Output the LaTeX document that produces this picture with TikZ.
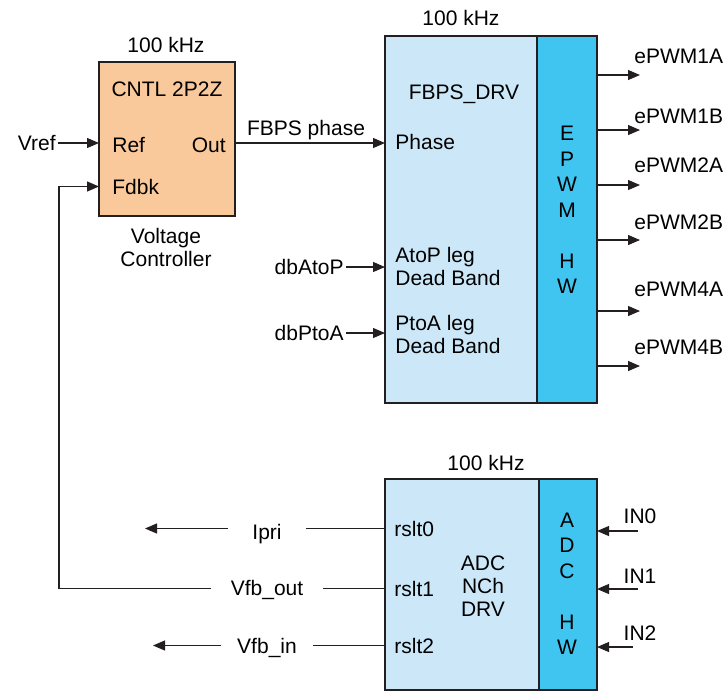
\documentclass[tikz,border=0pt]{standalone}
\usepackage{fontspec}
\setmainfont{Liberation Sans}
\usetikzlibrary{positioning,arrows.meta}
\definecolor{ctlorange}{RGB}{249,201,155}
\definecolor{drvblue}{RGB}{204,232,248}
\definecolor{hwblue}{RGB}{64,196,240}
\definecolor{wire}{RGB}{35,31,32}
\tikzset{
  lbl/.style={inner sep=1pt, font=\fontsize{10.5}{11.5}\selectfont},
  mlbl/.style={lbl, align=center},
  letters/.style={lbl, align=center, font=\fontsize{10.5}{12.75}\selectfont},
  blk/.style={draw=wire, line width=1.4pt, outer sep=0pt, inner sep=0pt},
  ctlbox/.style={blk, fill=ctlorange},
  drvbox/.style={blk, fill=drvblue},
  hwbox/.style={blk, fill=hwblue},
  arrow/.style={-{Triangle[length=6pt,width=5pt]}, line width=0.6pt, wire},
  wireline/.style={line width=0.6pt, wire}
}
\begin{document}
\begin{tikzpicture}[x=0.5pt, y=-0.5pt]
    \useasboundingbox (0,0) rectangle (726,692);
    % voltage controller
    \node[ctlbox, minimum width=68pt, minimum height=77pt] (cntl) at (167,139) {};
    \node[lbl, anchor=base] (khz1) at (166,52) {100 kHz};
    \node[lbl, anchor=base] (cntlname) at (167,96) {CNTL 2P2Z};
    \node[lbl, anchor=base west] (ref) at (110,152) {Ref};
    \node[lbl, anchor=base east] (out) at (228,152) {Out};
    \node[lbl, anchor=base west] (fdbk) at (110,194) {Fdbk};
    \node[mlbl] (vctl) at (166,247) {Voltage\\Controller};
    \node[lbl, anchor=east] (vref) at (58,143) {Vref};
    % FBPS driver + EPWM HW
    \node[drvbox, minimum width=76pt, minimum height=183.5pt] (drv) at (461,219.5) {};
    \node[hwbox, minimum width=30pt, minimum height=183.5pt, right=0pt of drv] (epwm) {};
    \node[lbl, anchor=base] (khz2) at (461,25) {100 kHz};
    \node[lbl, anchor=base] (drvname) at (464,99) {FBPS\_DRV};
    \node[lbl, anchor=base west] (phase) at (393,149) {Phase};
    \node[mlbl, align=left, anchor=west] (atop) at (393,266) {AtoP leg\\Dead Band};
    \node[mlbl, align=left, anchor=west] (ptoa) at (393,334) {PtoA leg\\Dead Band};
    \node[letters] (epwmtxt) at (567,210) {E\\P\\W\\M\\[12.75pt]H\\W};
    \node[lbl, anchor=east] (dbatop) at (346,267) {dbAtoP};
    \node[lbl, anchor=east] (dbptoa) at (346,333) {dbPtoA};
    \node[lbl, anchor=base] (fbpsph) at (306,135) {FBPS phase};
    \draw[arrow] (vref) -- (vref -| cntl.west);
    \draw[arrow] (cntl.east |- vref) -- (drv.west |- vref);
    \draw[arrow] (dbatop) -- (dbatop -| drv.west);
    \draw[arrow] (dbptoa) -- (dbptoa -| drv.west);
    % pwm outputs
    \foreach \pin/\ya/\yl in {1A/75/63, 1B/130/123, 2A/185/172, 2B/240/229, 4A/311/296, 4B/366/354}{
      \coordinate (pwm\pin) at (640,\ya);
      \node[lbl, anchor=base west] (lbl\pin) at (632,\yl) {ePWM\pin};
      \draw[arrow] (epwm.east |- pwm\pin) -- (pwm\pin);
    }
    % ADC driver + ADC HW
    \node[drvbox, minimum width=77pt, minimum height=105.5pt] (adcdrv) at (462,584.5) {};
    \node[hwbox, minimum width=29pt, minimum height=105.5pt, right=0pt of adcdrv] (adchw) {};
    \node[lbl, anchor=base] (khz3) at (486,470) {100 kHz};
    \node[mlbl] (adcname) at (483,586) {ADC\\NCh\\DRV};
    \node[letters] (adctxt) at (567,584) {A\\D\\C\\[12.75pt]H\\W};
    \node[lbl, anchor=base west] (rslt0) at (392,536) {rslt0};
    \node[lbl, anchor=base west] (rslt1) at (392,596) {rslt1};
    \node[lbl, anchor=base west] (rslt2) at (392,653) {rslt2};
    \foreach \ch/\xs/\ya/\yl in {0/638/531/523, 1/638/589/583, 2/633/647/640}{
      \coordinate (in\ch) at (\xs,\ya);
      \node[lbl, anchor=base] (inlbl\ch) at (640,\yl) {IN\ch};
      \draw[arrow] (in\ch) -- (in\ch -| adchw.east);
    }
    % results back to the left
    \node[lbl, anchor=base, inner xsep=12pt] (ipri) at (267,539) {Ipri};
    \node[lbl, anchor=base, inner xsep=9.5pt] (vfbout) at (267,595) {Vfb\_out};
    \node[lbl, anchor=base, inner xsep=8pt] (vfbin) at (267,653) {Vfb\_in};
    \coordinate (ipriend) at (145,529);
    \coordinate (vfbinend) at (153,645);
    \coordinate (fbturn) at (59,187);
    \draw[wireline] (adcdrv.west |- rslt0) -- (ipri.east |- rslt0);
    \draw[arrow] (ipri.west |- rslt0) -- (ipriend |- rslt0);
    \draw[wireline] (adcdrv.west |- rslt1) -- (vfbout.east |- rslt1);
    \draw[arrow] (vfbout.west |- rslt1) -| (fbturn |- fdbk) -- (fdbk -| cntl.west);
    \draw[wireline] (adcdrv.west |- rslt2) -- (vfbin.east |- rslt2);
    \draw[arrow] (vfbin.west |- rslt2) -- (vfbinend |- rslt2);
\end{tikzpicture}
\end{document}
